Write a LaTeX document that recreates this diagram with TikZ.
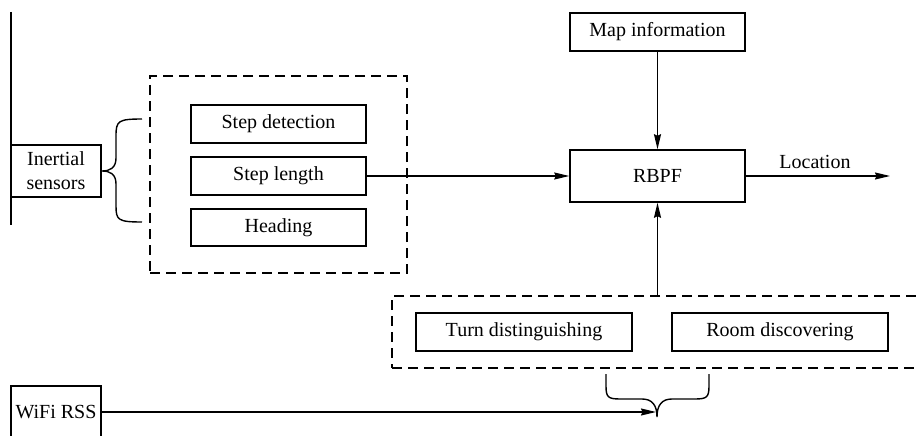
\documentclass[tikz,border=0pt]{standalone}
\usepackage{fontspec}
\setmainfont{Liberation Serif}
\usetikzlibrary{arrows.meta}
\begin{document}
\begin{tikzpicture}[x=1pt,y=-1pt,
  every node/.style={font=\fontsize{20}{22}\selectfont, inner sep=0pt},
  blk/.style={draw, line width=1.5pt, minimum width=175pt, minimum height=38pt, anchor=center},
  wblk/.style={blk, minimum width=216pt},
  dbox/.style={draw, line width=1.4pt, dash pattern=on 10pt off 6pt, anchor=center},
  conn/.style={line width=1.4pt},
  arr/.style={conn, -{Stealth[length=15pt,width=7pt,inset=1.5pt]}}
]
\clip (0,0) rectangle (916,436);
\fill[white] (0,0) rectangle (916,436);

% dashed groups
\node[dbox, minimum width=257pt, minimum height=197pt] (d1) at (278.5,174.5) {};
\node[dbox, minimum width=538pt, minimum height=72pt] (d2) at (661,332) {};

% blocks
\node[blk, minimum width=90pt, minimum height=52pt, align=center,
      font=\fontsize{20}{24}\selectfont] (inert) at (56,171) {Inertial\\sensors};
\node[blk, minimum width=90pt, minimum height=52pt] (wifi) at (56,412) {WiFi RSS};
\node[blk] (sd) at (278.5,124) {Step detection};
\node[blk] (sl) at (278.5,176) {Step length};
\node[blk, minimum height=37pt] (hd) at (278.5,227.5) {Heading};
\node[blk, minimum height=52pt] (rbpf) at (657.5,176) {RBPF};
\node[blk] (map) at (657.5,32) {Map information};
\node[wblk] (turn) at (524,332) {Turn distinguishing};
\node[wblk] (room) at (780,332) {Room discovering};

% left vertical line
\coordinate (vt) at (11,12);
\coordinate (vb) at (11,225);
\draw[conn] (vt) -- (vb);

% brace 1
\coordinate (b1tip) at (102,171);
\draw[conn] (142,119) .. controls (118,119) and (116,121) .. (116,136)
  -- (116,158) .. controls (116,168) and (110,171) .. (b1tip)
  .. controls (110,171) and (116,174) .. (116,184)
  -- (116,206) .. controls (116,220) and (118,222) .. (142,222);

% brace 2
\coordinate (b2tip) at (657,417);
\draw[conn] (606,374) -- (606,386) .. controls (606,397) and (608,399) .. (620,399)
  -- (642,399) .. controls (652,399) and (657,405) .. (b2tip)
  .. controls (657,405) and (662,399) .. (672,399)
  -- (695,399) .. controls (707,399) and (709,397) .. (709,386) -- (709,374);

% connectors
\draw[arr] (sl.east) -- (rbpf.west);
\draw[arr] (map.south) -- (rbpf.north);
\draw[arr] (rbpf.south |- d2.north) -- (rbpf.south);
\coordinate (locend) at (890,176);
\draw[arr] (rbpf.east) -- node[above=7pt, pos=0.48] (loc) {Location} (locend);
\draw[arr] (wifi.east |- 0,412) -- (656,412);
\end{tikzpicture}
\end{document}
